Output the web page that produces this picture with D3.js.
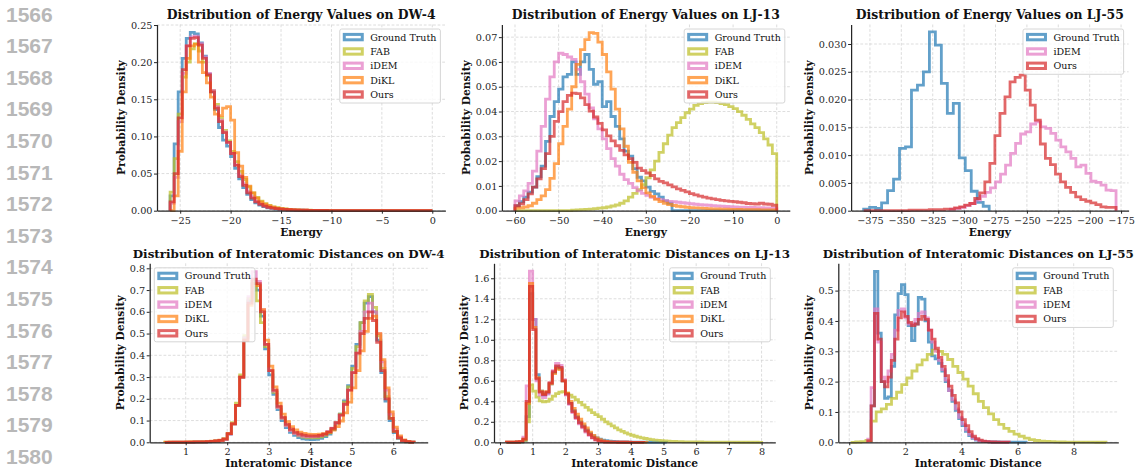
<!DOCTYPE html>
<html>
<head>
<meta charset="utf-8">
<script src="https://cdn.jsdelivr.net/npm/d3@7"></script>
<style>
  body { margin: 0; background: #fff; }
  svg { display: block; }
</style>
</head>
<body>
<svg id="fig" width="1135" height="469"></svg>
<script>
// ---------------------------------------------------------------------------
// Data: step-histogram densities. Each series has a bin spec [firstEdge, width]
// and one density value per bin.
// ---------------------------------------------------------------------------
const methods = ["Ground Truth", "FAB", "iDEM", "DiKL", "Ours"];
const lineNumbers = ["1566","1567","1568","1569","1570","1571","1572","1573","1574","1575","1576","1577","1578","1579","1580"];

// Energy, DW-4
const energyDW4Bins = [-26.0, 0.4];
const energyDW4GroundTruth = [0.02,0.09,0.16,0.205,0.232,0.24,0.238,0.226,0.208,0.184,
  0.16,0.136,0.112,0.095,0.087,0.073,0.057,0.043,0.031,0.022,
  0.015,0.0105,0.0075,0.0055,0.004,0.003,0.0023,0.0018,0.0014,0.0011,
  0.0009,0.0007,0.0006,0.0005,0.0004,0.0003,0.0003,0.0002,0.0002,0.0002,
  0,0,0,0,0,0,0,0,0,0,0,0,0,0,0,0,0,0,0,0,0,0,0,0,0];
const energyDW4FAB = [0.025,0.07,0.13,0.18,0.2,0.218,0.225,0.215,0.2,0.182,
  0.162,0.143,0.125,0.108,0.094,0.08,0.066,0.053,0.042,0.032,
  0.024,0.018,0.013,0.0095,0.007,0.0052,0.004,0.003,0.0023,0.0018,
  0.0014,0.0011,0.0009,0.0007,0.0006,0.0005,0.0004,0.0004,0.0003,0.0003,
  0,0,0,0,0,0,0,0,0,0,0,0,0,0,0,0,0,0,0,0,0,0,0,0,0];
const energyDW4iDEM = [0.01,0.045,0.12,0.185,0.222,0.234,0.235,0.225,0.207,0.185,
  0.162,0.14,0.122,0.106,0.092,0.077,0.062,0.048,0.036,0.026,
  0.019,0.013,0.0095,0.007,0.005,0.0038,0.0029,0.0022,0.0017,0.0013,
  0.001,0.0008,0.0007,0.0006,0.0005,0.0004,0.0003,0.0003,0.0002,0.0002,
  0,0,0,0,0,0,0,0,0,0,0,0,0,0,0,0,0,0,0,0,0,0,0,0,0];
const energyDW4DiKL = [0,0.02,0.08,0.16,0.205,0.222,0.224,0.2,0.186,0.172,
  0.153,0.13,0.128,0.138,0.14,0.122,0.078,0.06,0.045,0.033,
  0.024,0.017,0.012,0.0088,0.0065,0.0048,0.0036,0.0028,0.0021,0.0016,
  0.0012,0.001,0.0008,0.0006,0.0005,0.0004,0.0004,0.0003,0.0003,0.0002,
  0,0,0,0,0,0,0,0,0,0,0,0,0,0,0,0,0,0,0,0,0,0,0,0,0];
const energyDW4Ours = [0.012,0.05,0.125,0.19,0.222,0.232,0.233,0.223,0.205,0.183,
  0.16,0.138,0.12,0.105,0.092,0.077,0.061,0.046,0.034,0.024,
  0.017,0.012,0.0085,0.0062,0.0046,0.0035,0.0027,0.0021,0.0017,0.0013,
  0.001,0.0008,0.0007,0.0006,0.0005,0.0004,0.0004,0.0003,0.0003,0.0002,
  0,0,0,0,0,0,0,0,0,0,0,0,0,0,0,0,0,0,0,0,0,0,0,0,0];

// Energy, LJ-13
const energyLJ13Bins = [-60, 1];
const energyLJ13GroundTruth = [0.002,0.0036,0.0055,0.0075,0.0095,0.0137,0.018,0.028,0.038,0.044,
  0.049,0.054,0.055,0.060,0.055,0.060,0.063,0.057,0.051,0.052,
  0.042,0.044,0.038,0.034,0.029,0.024,0.022,0.017,0.0135,0.012,
  0.0095,0.0078,0.0068,0.0055,0.004,0.003,0,0,0,0,
  0,0,0,0,0,0,0,0,0,0,0,0,0,0,0,0,0,0,0,0];
const energyLJ13FAB = [0,0,0,0,0,0,0,0,0,0,
  0,0,0,0.0002,0.0003,0.0004,0.0005,0.0006,0.0008,0.001,
  0.0012,0.0015,0.0019,0.0023,0.003,0.004,0.0055,0.007,0.0085,0.0105,
  0.0133,0.0165,0.020,0.0235,0.027,0.0305,0.0335,0.0355,0.0375,0.0395,
  0.041,0.0425,0.0432,0.0436,0.0438,0.0438,0.0436,0.0432,0.0428,0.042,
  0.0412,0.040,0.0385,0.0368,0.035,0.0335,0.0315,0.029,0.0265,0.023];
const energyLJ13iDEM = [0.004,0.006,0.008,0.011,0.016,0.024,0.034,0.045,0.054,0.060,
  0.0635,0.063,0.062,0.061,0.057,0.052,0.047,0.0415,0.037,0.033,
  0.029,0.025,0.021,0.018,0.0147,0.0125,0.011,0.0093,0.008,0.007,
  0.0062,0.0054,0.0049,0.0045,0.0041,0.0038,0.0036,0.0034,0.0032,0.003,
  0.0028,0.0026,0.0024,0.0023,0.0022,0.002,0.0019,0.0018,0.0017,0.0016,
  0.0015,0.0014,0.0014,0.0013,0.0013,0.0012,0.0012,0.0011,0.0011,0.001];
const energyLJ13DiKL = [0.001,0.0012,0.0015,0.002,0.003,0.0045,0.006,0.0085,0.013,0.019,
  0.027,0.034,0.041,0.050,0.059,0.065,0.069,0.0718,0.0715,0.068,
  0.063,0.056,0.049,0.041,0.033,0.026,0.0195,0.0155,0.012,0.0093,
  0.0072,0.0058,0.0046,0.0037,0.003,0.0025,0.0021,0.0018,0.0016,0.0014,
  0.0012,0.0011,0.001,0.0009,0.0008,0.0007,0.0007,0.0006,0.0006,0.0005,
  0.0005,0.0005,0.0004,0.0004,0.0004,0.0004,0.0003,0.0003,0.0003,0.0003];
const energyLJ13Ours = [0.002,0.0028,0.0045,0.0068,0.0095,0.0128,0.017,0.023,0.030,0.036,
  0.040,0.044,0.0465,0.0474,0.0472,0.0455,0.0428,0.0402,0.0378,0.0352,
  0.0326,0.0302,0.0282,0.0262,0.0243,0.0225,0.021,0.0195,0.0172,0.0162,
  0.0152,0.0142,0.0128,0.0118,0.0112,0.0104,0.0096,0.0088,0.0082,0.0076,
  0.0069,0.0064,0.0059,0.0055,0.0051,0.0048,0.0045,0.0042,0.004,0.0038,
  0.0036,0.0034,0.0032,0.0029,0.0028,0.0027,0.003,0.0027,0.0026,0.0022];

// Energy, LJ-55
const energyLJ55GroundTruthBins = [-380, 4.76];
const energyLJ55GroundTruth = [0.0003,0.0006,0.0004,0.0014,0.0036,0.0057,0.0112,0.0115,0.0217,0.0226,
  0.025,0.0322,0.0298,0.0229,0.0175,0.0193,0.0095,0.0072,0.0035,0.0015,0.0008];
const energyLJ55iDEMBins = [-311, 4];
const energyLJ55iDEM = [0.0003,0.0004,0.0006,0.0009,0.0013,0.0019,0.0026,0.0033,0.0041,0.0052,
  0.0066,0.0082,0.0103,0.0121,0.0138,0.0142,0.0156,0.016,0.0151,0.0148,
  0.0139,0.0127,0.0115,0.0106,0.0094,0.0079,0.0082,0.0067,0.0053,0.0051,
  0.0046,0.0037,0.0036];
const energyLJ55OursBins = [-380, 4.02];
const energyLJ55Ours = [0,0,0,0,0,0,0,0,0,0.0001,
  0.0001,0.0001,0.0001,0.0002,0.0002,0.0002,0.0003,0.0003,0.0005,0.0007,
  0.001,0.0013,0.0022,0.0032,0.0052,0.0085,0.0135,0.0175,0.0205,0.0232,
  0.024,0.0244,0.0217,0.019,0.0163,0.012,0.0094,0.0083,0.0066,0.0052,
  0.0042,0.0033,0.0025,0.002,0.0017,0.0014,0.0011,0.0007,0.0006,0.0006];

// Interatomic distances, DW-4
const distDW4Bins = [0.5, 0.1];
const distDW4GroundTruth = [0,0,0,0,0,0,0,0.001,0.001,0.001,
  0.002,0.003,0.005,0.008,0.015,0.038,0.085,0.17,0.3,0.48,
  0.65,0.73,0.70,0.58,0.43,0.31,0.22,0.15,0.1,0.068,
  0.046,0.032,0.022,0.016,0.013,0.012,0.014,0.018,0.026,0.038,
  0.058,0.088,0.13,0.19,0.26,0.35,0.45,0.55,0.64,0.67,
  0.6,0.47,0.32,0.19,0.1,0.045,0.018,0.006,0.002,0.001];
const distDW4FAB = [0.001,0.001,0.001,0.001,0.001,0.001,0.002,0.002,0.002,0.003,
  0.003,0.004,0.006,0.008,0.016,0.04,0.09,0.18,0.31,0.49,
  0.66,0.74,0.65,0.55,0.44,0.33,0.23,0.16,0.11,0.077,
  0.055,0.04,0.03,0.024,0.021,0.02,0.021,0.025,0.032,0.044,
  0.062,0.09,0.13,0.185,0.255,0.34,0.44,0.55,0.65,0.68,
  0.62,0.49,0.34,0.21,0.11,0.05,0.02,0.007,0.002,0.001];
const distDW4iDEM = [0,0,0.0005,0.0005,0.001,0.001,0.001,0.001,0.0015,0.002,
  0.003,0.004,0.005,0.008,0.014,0.038,0.085,0.17,0.3,0.48,
  0.67,0.785,0.74,0.61,0.45,0.33,0.235,0.16,0.11,0.076,
  0.054,0.04,0.032,0.027,0.025,0.025,0.027,0.031,0.038,0.049,
  0.065,0.09,0.125,0.175,0.24,0.32,0.41,0.51,0.6,0.64,
  0.6,0.5,0.37,0.24,0.13,0.06,0.025,0.009,0.003,0.001];
const distDW4DiKL = [0.001,0.001,0.001,0.001,0.001,0.0015,0.0015,0.002,0.002,0.002,
  0.003,0.005,0.007,0.01,0.016,0.04,0.085,0.17,0.3,0.47,
  0.63,0.73,0.72,0.61,0.47,0.35,0.255,0.18,0.13,0.095,
  0.072,0.057,0.047,0.041,0.038,0.036,0.036,0.037,0.04,0.046,
  0.056,0.072,0.098,0.135,0.185,0.25,0.33,0.42,0.51,0.57,
  0.58,0.5,0.38,0.25,0.14,0.07,0.03,0.011,0.004,0.001];
const distDW4Ours = [0,0.0005,0.0005,0.001,0.001,0.001,0.001,0.0015,0.0015,0.002,
  0.003,0.004,0.006,0.009,0.015,0.04,0.085,0.17,0.3,0.47,
  0.64,0.75,0.73,0.6,0.45,0.33,0.24,0.165,0.115,0.082,
  0.06,0.046,0.038,0.033,0.03,0.029,0.029,0.032,0.038,0.048,
  0.064,0.09,0.125,0.175,0.24,0.32,0.41,0.5,0.57,0.6,
  0.56,0.46,0.33,0.2,0.11,0.05,0.02,0.008,0.003,0.001];

// Interatomic distances, LJ-13
const distLJ13Bins = [0.2, 0.1];
const distLJ13GroundTruth = [0,0,0,0.001,0.003,0.02,0.25,1.45,1.2,0.66,
  0.5,0.46,0.48,0.57,0.68,0.735,0.72,0.6,0.47,0.38,
  0.31,0.25,0.2,0.16,0.12,0.088,0.062,0.044,0.031,0.022,
  0.016,0.012,0.009,0.007,0.005,0.004,0.003,0.002,0.0015,0.001,
  0.001,0.0008,0.0006,0.0005,0.0004,0.0003,0.0002,0.0002,0.0001];
const distLJ13FAB = [0.001,0.001,0.002,0.003,0.005,0.02,0.2,0.56,0.5,0.44,
  0.405,0.395,0.4,0.42,0.45,0.475,0.49,0.495,0.48,0.46,
  0.44,0.415,0.39,0.365,0.34,0.315,0.29,0.27,0.25,0.225,
  0.2,0.18,0.16,0.14,0.122,0.106,0.092,0.08,0.069,0.059,
  0.05,0.043,0.037,0.031,0.026,0.022,0.018,0.015,0.013,0.011,
  0.009,0.008,0.007,0.006,0.005,0.0045,0.004,0.0035,0.003,0.0027,
  0.0024,0.0021,0.0019,0.0017,0.0015,0.0013,0.0012,0.001,0.0009,0.0008,
  0.0007,0.0006,0.0005,0.0005,0.0004,0.0003,0.0003,0.0002];
const distLJ13iDEM = [0.001,0.001,0.002,0.004,0.008,0.05,0.55,1.67,1.2,0.6,
  0.46,0.435,0.47,0.58,0.7,0.77,0.75,0.61,0.46,0.37,
  0.29,0.23,0.18,0.14,0.1,0.068,0.042,0.024,0.012,0.006,
  0.003,0.002,0.001,0.001,0.0005,0.0003,0.0002,0.0001];
const distLJ13DiKL = [0.001,0.001,0.002,0.003,0.006,0.03,0.38,1.55,1.12,0.63,
  0.5,0.475,0.495,0.57,0.67,0.72,0.71,0.6,0.48,0.4,
  0.33,0.275,0.225,0.18,0.14,0.1,0.068,0.043,0.025,0.014,
  0.008,0.004,0.002,0.001,0.0007,0.0005,0.0003,0.0002,0.0001,0.0001,
  0.0001,0.0001,0.0001];
const distLJ13Ours = [0.001,0.001,0.002,0.003,0.006,0.03,0.4,1.52,1.1,0.62,
  0.49,0.465,0.49,0.58,0.69,0.745,0.73,0.6,0.47,0.38,
  0.3,0.24,0.19,0.15,0.11,0.075,0.045,0.025,0.012,0.006,
  0.003,0.002,0.001,0.001,0.0005,0.0005,0.0003,0.0003,0.0002,0.0002,
  0.0001,0.0001];

// Interatomic distances, LJ-55
const distLJ55GroundTruthBins = [0.78, 0.12];
const distLJ55GroundTruth = [0.12,0.563,0.36,0.2,0.145,0.15,0.25,0.42,0.49,0.52,
  0.487,0.385,0.335,0.39,0.478,0.472,0.4,0.33,0.285,0.275,
  0.26,0.235,0.2,0.17,0.135,0.105,0.078,0.055,0.036,0.022,
  0.013,0.007,0.004,0.003,0.002,0.0015,0.001,0.001,0.0008,0.0006,
  0.0005,0.0004,0.0003,0.0003,0.0002,0.0002];
const distLJ55FABBins = [0.05, 0.182];
const distLJ55FAB = [0,0.001,0.002,0.006,0.07,0.1,0.11,0.125,0.145,0.165,
  0.19,0.212,0.235,0.255,0.272,0.29,0.304,0.3,0.29,0.273,
  0.25,0.23,0.208,0.185,0.16,0.135,0.114,0.094,0.075,0.059,
  0.046,0.036,0.027,0.02,0.014,0.009,0.006,0.004,0.003,0.002,
  0.0015,0.001,0.0008,0.0006,0.0005,0.0004,0.0003,0.0003,0.0002,0.0002];
const distLJ55ModelBins = [0.66, 0.12];
const distLJ55iDEM = [0.01,0.18,0.44,0.33,0.215,0.2,0.235,0.29,0.37,0.435,
  0.44,0.41,0.39,0.39,0.405,0.425,0.43,0.41,0.37,0.33,
  0.3,0.27,0.24,0.205,0.17,0.14,0.11,0.082,0.06,0.041,
  0.026,0.015,0.009,0.005,0.003,0.002,0.0012,0.0008,0.0005,0.0004,
  0.0003,0.0002];
const distLJ55Ours = [0.005,0.12,0.425,0.34,0.2,0.183,0.215,0.27,0.34,0.41,
  0.43,0.415,0.395,0.385,0.39,0.405,0.415,0.405,0.37,0.34,
  0.31,0.28,0.25,0.22,0.185,0.155,0.13,0.1,0.075,0.055,
  0.035,0.02,0.012,0.007,0.004,0.0025,0.0015,0.001,0.0007,0.0005,
  0.0004,0.0003];

// Tick values
const energyDW4XTicks = [-25, -20, -15, -10, -5, 0];
const energyDW4YTicks = [0, 0.05, 0.10, 0.15, 0.20, 0.25];
const energyLJ13XTicks = [-60, -50, -40, -30, -20, -10, 0];
const energyLJ13YTicks = [0, 0.01, 0.02, 0.03, 0.04, 0.05, 0.06, 0.07];
const energyLJ55XTicks = [-375, -350, -325, -300, -275, -250, -225, -200, -175];
const energyLJ55YTicks = [0, 0.005, 0.010, 0.015, 0.020, 0.025, 0.030];
const distDW4XTicks = [1, 2, 3, 4, 5, 6];
const distDW4YTicks = [0, 0.1, 0.2, 0.3, 0.4, 0.5, 0.6, 0.7, 0.8];
const distLJ13XTicks = [0, 1, 2, 3, 4, 5, 6, 7, 8];
const distLJ13YTicks = [0, 0.2, 0.4, 0.6, 0.8, 1.0, 1.2, 1.4, 1.6];
const distLJ55XTicks = [0, 2, 4, 6, 8];
const distLJ55YTicks = [0, 0.1, 0.2, 0.3, 0.4, 0.5];

// ---------------------------------------------------------------------------
// Styling and layout
// ---------------------------------------------------------------------------
const colors = {
  "Ground Truth": "#1f77b4",
  "FAB": "#bcbd22",
  "iDEM": "#e377c2",
  "DiKL": "#ff7f0e",
  "Ours": "#d62728"
};
const SERIF = "'DejaVu Serif', serif";
const INK = "#262626";

const panels = [
  { title: "Distribution of Energy Values on DW-4", xlabel: "Energy", titleSize: 12.4,
    box: [157, 24.5, 445.4, 210.7], xlim: [-27.3, 1.3], ylim: [0, 0.2507],
    xticks: energyDW4XTicks, yticks: energyDW4YTicks, yfmt: ".2f", legend: "right",
    series: [
      ["Ground Truth", energyDW4Bins, energyDW4GroundTruth],
      ["FAB", energyDW4Bins, energyDW4FAB],
      ["iDEM", energyDW4Bins, energyDW4iDEM],
      ["DiKL", energyDW4Bins, energyDW4DiKL],
      ["Ours", energyDW4Bins, energyDW4Ours]] },
  { title: "Distribution of Energy Values on LJ-13", xlabel: "Energy", titleSize: 12.4,
    box: [501.9, 24.5, 789.8, 210.7], xlim: [-63, 3], ylim: [0, 0.0751],
    xticks: energyLJ13XTicks, yticks: energyLJ13YTicks, yfmt: ".2f", legend: "right",
    series: [
      ["Ground Truth", energyLJ13Bins, energyLJ13GroundTruth],
      ["FAB", energyLJ13Bins, energyLJ13FAB],
      ["iDEM", energyLJ13Bins, energyLJ13iDEM],
      ["DiKL", energyLJ13Bins, energyLJ13DiKL],
      ["Ours", energyLJ13Bins, energyLJ13Ours]] },
  { title: "Distribution of Energy Values on LJ-55", xlabel: "Energy", titleSize: 12.4,
    box: [851.1, 24.5, 1128.6, 210.7], xlim: [-390, -169], ylim: [0, 0.03351],
    xticks: energyLJ55XTicks, yticks: energyLJ55YTicks, yfmt: ".3f", legend: "right",
    series: [
      ["Ground Truth", energyLJ55GroundTruthBins, energyLJ55GroundTruth],
      ["iDEM", energyLJ55iDEMBins, energyLJ55iDEM],
      ["Ours", energyLJ55OursBins, energyLJ55Ours]] },
  { title: "Distribution of Interatomic Distances on DW-4", xlabel: "Interatomic Distance", titleSize: 11.9,
    box: [149.7, 263.3, 427.7, 442.3], xlim: [0.133, 6.83], ylim: [0, 0.823],
    xticks: distDW4XTicks, yticks: distDW4YTicks, yfmt: ".1f", legend: "left",
    series: [
      ["Ground Truth", distDW4Bins, distDW4GroundTruth],
      ["FAB", distDW4Bins, distDW4FAB],
      ["iDEM", distDW4Bins, distDW4iDEM],
      ["DiKL", distDW4Bins, distDW4DiKL],
      ["Ours", distDW4Bins, distDW4Ours]] },
  { title: "Distribution of Interatomic Distances on LJ-13", xlabel: "Interatomic Distance", titleSize: 11.9,
    box: [494, 263.3, 775.3, 442.3], xlim: [-0.183, 8.42], ylim: [0, 1.746],
    xticks: distLJ13XTicks, yticks: distLJ13YTicks, yfmt: ".1f", legend: "right",
    series: [
      ["Ground Truth", distLJ13Bins, distLJ13GroundTruth],
      ["FAB", distLJ13Bins, distLJ13FAB],
      ["iDEM", distLJ13Bins, distLJ13iDEM],
      ["DiKL", distLJ13Bins, distLJ13DiKL],
      ["Ours", distLJ13Bins, distLJ13Ours]] },
  { title: "Distribution of Interatomic Distances on LJ-55", xlabel: "Interatomic Distance", titleSize: 11.9,
    box: [838.3, 263.3, 1118.3, 442.3], xlim: [-0.39, 9.59], ylim: [0, 0.59],
    xticks: distLJ55XTicks, yticks: distLJ55YTicks, yfmt: ".1f", legend: "right",
    series: [
      ["Ground Truth", distLJ55GroundTruthBins, distLJ55GroundTruth],
      ["FAB", distLJ55FABBins, distLJ55FAB],
      ["iDEM", distLJ55ModelBins, distLJ55iDEM],
      ["Ours", distLJ55ModelBins, distLJ55Ours]] }
];

const svg = d3.select("#fig");
svg.append("rect").attr("width", 1135).attr("height", 469).attr("fill", "#fff");

// Review line numbers in the left margin
svg.append("g").selectAll("text").data(lineNumbers).join("text")
  .attr("x", 6).attr("y", (d, i) => 21.5 + i * 31.6)
  .attr("font-family", "'Liberation Sans', Arial, sans-serif")
  .attr("font-weight", "bold").attr("font-size", 21)
  .attr("fill", "#b8b8b8").text(d => d);

const minus = s => s.replace(/-/g, "\u2212");

// Outline of a step histogram: up at first edge, across each bin, down at last edge
function stepPoints(bins, values) {
  const [start, width] = bins;
  const pts = [[start, 0]];
  values.forEach((v, i) => {
    pts.push([start + i * width, v]);
    pts.push([start + (i + 1) * width, v]);
  });
  pts.push([start + values.length * width, 0]);
  return pts;
}

panels.forEach(p => {
  const [x0, y0, x1, y1] = p.box;
  const x = d3.scaleLinear().domain(p.xlim).range([x0, x1]);
  const y = d3.scaleLinear().domain(p.ylim).range([y1, y0]);
  const g = svg.append("g");

  // dashed grid
  const grid = g.append("g").attr("stroke", "#d4d4d4").attr("stroke-width", 0.8)
    .attr("stroke-dasharray", "2.8,1.8");
  grid.selectAll(".gx").data(p.xticks).join("line").attr("class", "gx")
    .attr("x1", d => x(d)).attr("x2", d => x(d)).attr("y1", y0).attr("y2", y1);
  grid.selectAll(".gy").data(p.yticks).join("line").attr("class", "gy")
    .attr("x1", x0).attr("x2", x1).attr("y1", d => y(d)).attr("y2", d => y(d));

  // histograms
  const line = d3.line().x(d => x(d[0])).y(d => y(d[1]));
  p.series.forEach(([name, bins, values]) => {
    g.append("path").datum(stepPoints(bins, values))
      .attr("d", line).attr("fill", "none")
      .attr("stroke", colors[name]).attr("stroke-opacity", 0.7)
      .attr("stroke-width", 2.8).attr("stroke-linejoin", "miter");
  });

  // axes (left and bottom spines only)
  const xAxis = g.append("g").attr("transform", `translate(0,${y1})`)
    .call(d3.axisBottom(x).tickValues(p.xticks).tickSize(3).tickSizeOuter(0)
      .tickPadding(3).tickFormat(d => minus(d3.format("d")(d))));
  const yAxis = g.append("g").attr("transform", `translate(${x0},0)`)
    .call(d3.axisLeft(y).tickValues(p.yticks).tickSize(3).tickSizeOuter(0)
      .tickPadding(1.5).tickFormat(d3.format(p.yfmt)));
  [xAxis, yAxis].forEach(a => {
    a.attr("font-family", SERIF).attr("font-size", 9.7).attr("color", INK);
    a.select(".domain").attr("stroke-width", 1.25);
    a.selectAll(".tick line").attr("stroke-width", 1);
  });

  // title
  g.append("text").attr("x", (x0 + x1) / 2).attr("y", y0 - 5.2)
    .attr("text-anchor", "middle").attr("font-family", SERIF)
    .attr("font-weight", "bold").attr("font-size", p.titleSize).attr("fill", "#111")
    .text(p.title);

  // axis labels
  g.append("text").attr("x", (x0 + x1) / 2).attr("y", y1 + 25)
    .attr("text-anchor", "middle").attr("font-family", SERIF)
    .attr("font-weight", "bold").attr("font-size", 10.7).attr("fill", "#111")
    .text(p.xlabel);
  const yb = yAxis.node().getBBox();
  const ylx = x0 + yb.x - 5.6;
  g.append("text").attr("transform", `translate(${ylx},${(y0 + y1) / 2}) rotate(-90)`)
    .attr("text-anchor", "middle").attr("font-family", SERIF)
    .attr("font-weight", "bold").attr("font-size", 10.7).attr("fill", "#111")
    .text("Probability Density");

  // legend
  const names = p.series.map(s => s[0]);
  const lg = g.append("g");
  const frame = lg.append("rect");
  const rowH = 14.35;
  const texts = lg.selectAll("text").data(names).join("text")
    .attr("font-family", SERIF).attr("font-size", 9.5).attr("fill", "#111")
    .text(d => d);
  let maxW = 0;
  texts.each(function () { maxW = Math.max(maxW, this.getComputedTextLength()); });
  const w = 30.5 + maxW + 4;
  const h = (names.length - 1) * rowH + 16.6;
  const L = p.legend === "left" ? x0 + 4.6 : x1 - 5 - w;
  const T = y0 + 4.5;
  frame.attr("x", L).attr("y", T).attr("width", w).attr("height", h)
    .attr("rx", 2).attr("fill", "#fff").attr("fill-opacity", 0.8)
    .attr("stroke", "#cccccc").attr("stroke-width", 0.8);
  texts.attr("x", L + 30.5).attr("y", (d, i) => T + 8.1 + i * rowH + 3.4);
  lg.selectAll(".patch").data(names).join("rect").attr("class", "patch")
    .attr("x", L + 4.5).attr("y", (d, i) => T + 8.1 + i * rowH - 2.7)
    .attr("width", 18).attr("height", 5.4).attr("fill", "none")
    .attr("stroke", d => colors[d]).attr("stroke-opacity", 0.7).attr("stroke-width", 3);
});
</script>
</body>
</html>
